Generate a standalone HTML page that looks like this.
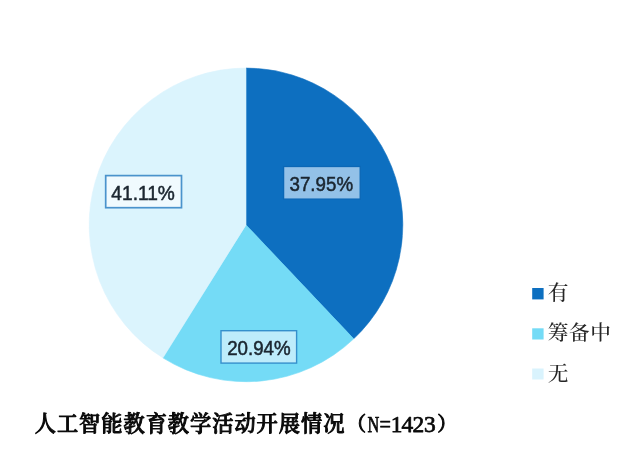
<!DOCTYPE html>
<html lang="zh-CN">
<head>
<meta charset="utf-8">
<title>人工智能教育教学活动开展情况（N=1423）</title>
<style>
  html, body { margin: 0; padding: 0; background: #ffffff; }
  body { width: 641px; height: 465px; overflow: hidden; position: relative; }
  svg { display: block; position: absolute; left: 0; top: 0; }
  .soft { filter: blur(0.45px); }
  .num { font-family: "Liberation Sans", "DejaVu Sans", sans-serif; font-size: 19.4px; fill: #1b2630; stroke: #1b2630; stroke-width: 0.5px; }
  .leg { font-family: "Liberation Serif", "Noto Serif CJK SC", serif; font-weight: 500; font-size: 20.7px; fill: #262626; letter-spacing: 0.6px; }
  .ttl { font-family: "Liberation Serif", "Noto Serif CJK SC", serif; font-weight: 500; font-size: 22.2px; fill: #0a0a0a; stroke: #0a0a0a; stroke-width: 1px; stroke-linejoin: round; }
  .cjk { font-size: 21.2px; letter-spacing: 1px; }
  .par { font-size: 19.6px; }
  .lat { font-size: 23.4px; font-weight: normal; stroke-width: 0.75px; }
</style>
</head>
<body>
<svg width="641" height="465" viewBox="0 0 641 465">
  <rect x="0" y="0" width="641" height="465" fill="#ffffff"/>
  <g class="soft">
  <!-- pie -->
  <path d="M246.00 224.90 L246.00 68.10 A156.8 156.8 0 0 1 353.70 338.86 Z" fill="#0d6fc0" stroke="#0d6fc0" stroke-width="0.6" stroke-linejoin="round"/>
  <path d="M246.00 224.90 L353.70 338.86 A156.8 156.8 0 0 1 162.90 357.87 Z" fill="#74dbf6" stroke="#74dbf6" stroke-width="0.6" stroke-linejoin="round"/>
  <path d="M246.00 224.90 L162.90 357.87 A156.8 156.8 0 0 1 246.00 68.10 Z" fill="#dbf4fd" stroke="#dbf4fd" stroke-width="0.6" stroke-linejoin="round"/>
  <!-- data labels -->
  <rect x="283.6" y="166.5" width="76.6" height="32.6" fill="#93c1e8" stroke="#0b67b6" stroke-width="1.3"/>
  <text class="num" x="321.3" y="191" text-anchor="middle" textLength="63.5" lengthAdjust="spacingAndGlyphs">37.95%</text>
  <rect x="105.7" y="175.6" width="75.8" height="32.1" fill="#f0fafe" stroke="#4a93cc" stroke-width="1.7"/>
  <text class="num" x="143.1" y="200" text-anchor="middle" textLength="63.5" lengthAdjust="spacingAndGlyphs">41.11%</text>
  <rect x="221" y="330.7" width="75.6" height="32.4" fill="#bdecfb" stroke="#3590cc" stroke-width="1.4"/>
  <text class="num" x="258.9" y="354.8" text-anchor="middle" textLength="63.5" lengthAdjust="spacingAndGlyphs">20.94%</text>
  <!-- legend -->
  <rect x="532.2" y="288" width="11.4" height="11.4" fill="#0d6fc0"/>
  <text class="leg" x="547.8" y="300.4">有</text>
  <rect x="532.2" y="328.3" width="11.4" height="11.2" fill="#74dbf6"/>
  <text class="leg" x="547.8" y="340">筹备中</text>
  <rect x="532.2" y="368.5" width="11.4" height="11" fill="#d9f3fd"/>
  <text class="leg" x="547.8" y="380.6">无</text>
  <!-- title -->
  <text class="ttl" y="431.4"><tspan class="cjk" x="34.7">人工智能教育教学活动开展情况</tspan><tspan class="par" x="346.4">（</tspan><tspan class="lat" x="367.6" y="432" textLength="11.8" lengthAdjust="spacingAndGlyphs">N</tspan><tspan class="lat" x="379.6" textLength="11.4" lengthAdjust="spacingAndGlyphs">=</tspan><tspan class="lat" x="390.8 401.4 412.6 423.9">1423</tspan><tspan class="par" x="437.3" y="431.4">）</tspan></text>
  </g>
</svg>
</body>
</html>
